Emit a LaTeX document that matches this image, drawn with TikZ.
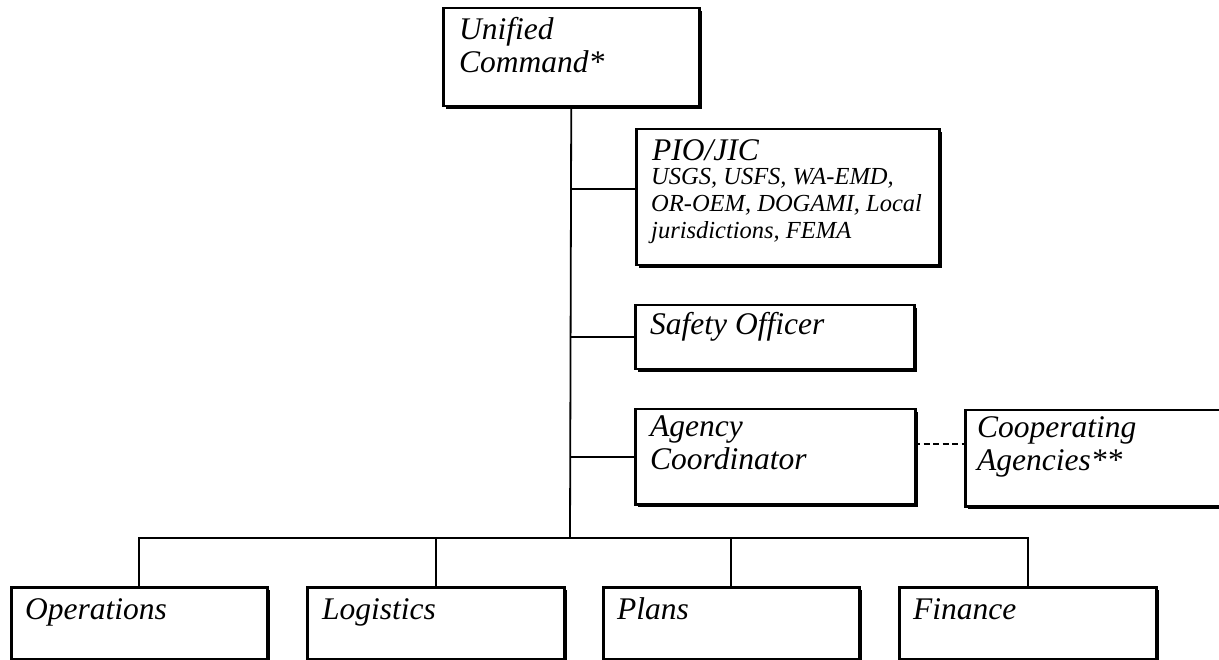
\documentclass[tikz,border=0pt]{standalone}
\usepackage{fontspec}
\setmainfont{Liberation Serif}
\usetikzlibrary{shadows}
\newcommand{\bigtxt}[1]{{\fontsize{31.5}{33}\selectfont\itshape\begin{tabular}[t]{@{}l@{}}#1\end{tabular}}}
\newcommand{\smalltxt}[1]{{\fontsize{24.5}{27}\selectfont\itshape\begin{tabular}[t]{@{}l@{}}#1\end{tabular}}}
\tikzset{
  orgbox/.style={draw=black, fill=white, line width=2.5pt, rectangle, inner sep=0pt, anchor=north west,
    drop shadow={shadow xshift=2.3pt, shadow yshift=-2.3pt, fill=black, opacity=1}},
  txt/.style={inner sep=0pt, anchor=base west},
  link/.style={draw=black, line width=1.8pt},
  dlink/.style={draw=black, line width=1.8pt, dash pattern=on 6pt off 3.5pt},
}
\begin{document}
\begin{tikzpicture}[x=1pt,y=-1pt]
\useasboundingbox (0,0) rectangle (1219,660);
\fill[white] (0,0) rectangle (1219,660);
\begin{scope}
\clip (0,0) rectangle (1219,660);
% boxes
\node[orgbox, minimum width=256pt, minimum height=98pt] (uc) at (442,7) {};
\node[orgbox, minimum width=303pt, minimum height=136pt] (pio) at (635,128) {};
\node[orgbox, minimum width=279pt, minimum height=64pt] (so) at (634,304) {};
\node[orgbox, minimum width=280pt, minimum height=95pt] (ac) at (634,408) {};
\node[orgbox, minimum width=262pt, minimum height=96pt] (ca) at (964,409) {};
\node[orgbox, minimum width=256pt, minimum height=72pt] (ops) at (10,586) {};
\node[orgbox, minimum width=257pt, minimum height=72pt] (log) at (306,586) {};
\node[orgbox, minimum width=256pt, minimum height=72pt] (pln) at (602,586) {};
\node[orgbox, minimum width=257pt, minimum height=72pt] (fin) at (898,586) {};
\end{scope}
% texts
\node[txt] (uct) at (459,40) {\bigtxt{Unified\\Command*}};
\node[txt] (piot) at (652,161) {\bigtxt{PIO/JIC}};
\node[txt] (pios) at (651,185) {\smalltxt{USGS, USFS, WA-EMD,\\OR-OEM, DOGAMI, Local\\jurisdictions, FEMA}};
\node[txt] (sot) at (650,335) {\bigtxt{Safety Officer}};
\node[txt] (act) at (650,436) {\bigtxt{Agency\\Coordinator}};
\node[txt] (cat) at (977,437) {\bigtxt{Cooperating\\Agencies**}};
\node[txt] (opst) at (25,619) {\bigtxt{Operations}};
\node[txt] (logt) at (322,619) {\bigtxt{Logistics}};
\node[txt] (plnt) at (617,619) {\bigtxt{Plans}};
\node[txt] (fint) at (913,619) {\bigtxt{Finance}};
% connectors
\coordinate (bus) at (570,538);
\coordinate (pj) at (570,189);
\coordinate (dj) at (914,444);
\draw[link] (uc.south) -- (bus);
\draw[link] (pj) -- (pio.west |- pj);
\draw[link] (uc.south |- so.west) -- (so.west);
\draw[link] (uc.south |- ac.west) -- (ac.west);
\draw[dlink] (dj) -- (ca.west |- dj);
\draw[link] (ops.north) -- (ops.north |- bus) -- (fin.north |- bus) -- (fin.north);
\draw[link] (log.north) -- (log.north |- bus);
\draw[link] (pln.north) -- (pln.north |- bus);
\end{tikzpicture}
\end{document}
